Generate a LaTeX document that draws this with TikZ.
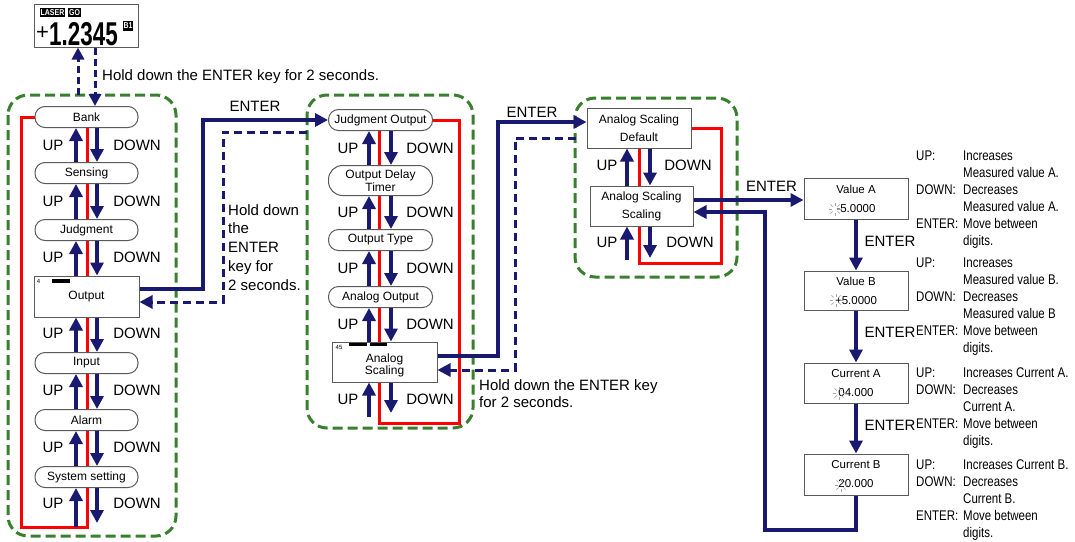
\documentclass[tikz,border=0pt]{standalone}
\usepackage{fontspec}
\setmainfont{Liberation Sans}
\newfontfamily\narrowf[FakeStretch=0.82]{Liberation Sans}
\newfontfamily\dispf[FakeStretch=0.68]{Liberation Sans}
\usetikzlibrary{arrows.meta,backgrounds,calc}
\definecolor{navyb}{RGB}{25,25,112}
\definecolor{grpc}{RGB}{56,128,46}
\definecolor{bord}{RGB}{90,90,90}
\tikzset{
 grpbox/.style={draw=grpc, line width=3pt, dash pattern=on 10pt off 5pt, rounded corners=20pt},
 pill/.style={draw=bord, line width=1pt, fill=white, rounded corners=10pt, minimum width=103pt, minimum height=21pt, inner sep=0pt, font=\fontsize{12}{13}\selectfont, align=center},
 rbox/.style={draw=bord, line width=1pt, fill=white, minimum width=104pt, minimum height=40pt, inner sep=0pt, font=\fontsize{12}{13}\selectfont, align=center},
 nav/.style={draw=navyb, line width=3.5pt, -{Triangle[width=13pt,length=13pt]}},
 dnav/.style={draw=navyb, line width=3pt, dash pattern=on 8pt off 5pt, -{Triangle[width=13pt,length=13pt]}},
 dnavs/.style={draw=navyb, line width=3pt, dash pattern=on 7pt off 4pt, -{Triangle[width=12pt,length=12pt]}},
 redl/.style={draw=red, line width=3pt},
 lbl/.style={font=\fontsize{15}{18}\selectfont, inner sep=0pt},
 note/.style={font=\narrowf\fontsize{14}{17}\selectfont, inner sep=0pt, anchor=north west},
 tag/.style={fill=black, text=white, font=\narrowf\bfseries\fontsize{8.5}{8.5}\selectfont, inner xsep=1pt, inner ysep=0pt, minimum height=9.5pt},
 spark/.style={draw=gray!70, line width=0.7pt},
}
\newcommand{\sparkat}[1]{\foreach \ang in {0,45,...,315}{\draw[spark] ($(#1)+(\ang:3.5)$) -- ($(#1)+(\ang:6.5)$);}}
\begin{document}
\begin{tikzpicture}[x=1pt,y=-1pt]
\useasboundingbox (0,0) rectangle (1075,541);

% ---------- top display ----------
\node[draw=bord, line width=1pt, minimum width=104pt, minimum height=43pt, inner sep=0pt] (disp) at (86,25.5) {};
\node[tag] (laser) at (52.5,12.5) {LASER};
\node[tag] (go) at (74.5,12.5) {GO};
\node[anchor=center, inner sep=0pt, font=\fontsize{22}{22}\selectfont] (plus) at (42.5,33) {+};
\node[anchor=base west, inner sep=0pt, font=\dispf\bfseries\fontsize{33}{33}\selectfont] (num) at (49,45) {1.2345};
\node[tag] (b1) at (128,26) {B1};
\node[lbl, anchor=base west] (h1) at (102,80.5) {Hold down the ENTER key for 2 seconds.};

% ---------- left column ----------
\node[pill] (bank) at (86.5,117) {Bank};
\node[pill] (sens) at (86.5,173) {Sensing};
\node[pill] (judg) at (86.5,230) {Judgment};
\node[rbox, minimum width=105pt, minimum height=41pt] (outp) at (86.5,296.5) {Output};
\node[pill] (inp) at (86.5,363) {Input};
\node[pill] (alarm) at (86.5,420) {Alarm};
\node[pill] (sys) at (86.5,477) {System setting};
\node[font=\fontsize{6}{6}\selectfont, inner sep=0pt] (o4) at (38.5,281) {4};
\fill (52,279) rectangle (70,282.5);

\foreach \a/\b in {bank/sens,sens/judg,judg/outp,outp/inp,inp/alarm,alarm/sys}{
  \draw[nav] (76,0 |- \b.north) -- (76,0 |- \a.south);
  \draw[nav] (97,0 |- \a.south) -- (97,0 |- \b.north);
}
\coordinate (lbU) at (76,527);
\coordinate (lbD) at (97,523);
\draw[nav] (lbU) -- (76,0 |- sys.south);
\draw[nav] (97,0 |- sys.south) -- (lbD);
\foreach \y [count=\i] in {145,201,257,333,390,447,503}{
  \node[lbl] (lu\i) at (53,\y) {UP};
  \node[lbl] (ld\i) at (137,\y) {DOWN};
}

% top dashed arrows
\coordinate (gtop) at (78,95);
\draw[dnavs] (gtop) -- (78,0 |- disp.south);
\draw[dnavs] (95,0 |- disp.south) -- (95,0 |- bank.north);

% ---------- middle column ----------
\node[pill, minimum width=104pt] (jo) at (380.5,120) {Judgment Output};
\node[pill, minimum width=104pt, minimum height=30pt, rounded corners=14pt] (odt) at (380.5,180.5) {Output Delay\\Timer};
\node[pill, minimum width=104pt] (ot) at (380.5,240) {Output Type};
\node[pill, minimum width=104pt] (ao) at (380.5,297) {Analog Output};
\node[rbox, minimum width=105pt, minimum height=40pt] (as) at (384.5,362) {};
\node[font=\fontsize{12}{12.5}\selectfont, align=center, inner sep=0pt] (astxt) at (384.5,365.5) {Analog\\Scaling};
\node[font=\fontsize{6}{6}\selectfont, inner sep=0pt] (a45) at (339,347) {45};
\fill (349,342.5) rectangle (367,345.5);
\fill (370,342.5) rectangle (387,345.5);

\foreach \a/\b in {jo/odt,odt/ot,ot/ao,ao/as}{
  \draw[nav] (369,0 |- \b.north) -- (369,0 |- \a.south);
  \draw[nav] (391,0 |- \a.south) -- (391,0 |- \b.north);
}
\coordinate (mbU) at (369,417);
\coordinate (mbD) at (391,413);
\draw[nav] (mbU) -- (369,0 |- as.south);
\draw[nav] (391,0 |- as.south) -- (mbD);
\foreach \y [count=\i] in {148,212,268,324,399}{
  \node[lbl] (mu\i) at (348,\y) {UP};
  \node[lbl] (md\i) at (430,\y) {DOWN};
}

% Output <-> Judgment Output
\draw[nav] ([yshift=7.5pt]outp.east) -- (203,289) -- (203,120) -- (jo.west);
\node[lbl] (e1) at (255,106) {ENTER};
\coordinate (d1) at (307,132);
\draw[dnav] (d1) -- (223,132) -- (223,302) -- ([yshift=-5.5pt]outp.east);
\node[lbl, anchor=north west, align=left, font=\fontsize{15}{18.8}\selectfont] (h2) at (228,204) {Hold down\\the\\ENTER\\key for\\2 seconds.};

% ---------- right group ----------
\node[rbox, font=\fontsize{12}{18}\selectfont] (asd) at (639,128) {Analog Scaling\\Default};
\node[rbox, minimum width=103pt, font=\fontsize{12}{18}\selectfont] (ass) at (641.5,206) {Analog Scaling\\Scaling};
\draw[nav] (627,0 |- ass.north) -- (627,0 |- asd.south);
\draw[nav] (650,0 |- asd.south) -- (650,0 |- ass.north);
\coordinate (rbU) at (627,260);
\coordinate (rbD) at (650,258);
\draw[nav] (rbU) -- (627,0 |- ass.south);
\draw[nav] (650,0 |- ass.south) -- (rbD);
\node[lbl] (ru1) at (607,165) {UP};
\node[lbl] (rd1) at (688,165) {DOWN};
\node[lbl] (ru2) at (607,242) {UP};
\node[lbl] (rd2) at (690,242) {DOWN};

% Analog Scaling <-> Default
\draw[nav] ([yshift=6pt]as.east) -- (498,356) -- (498,122) -- ([yshift=6pt]asd.west);
\node[lbl] (e2) at (532,112) {ENTER};
\coordinate (d2) at (576,138);
\draw[dnav] (d2) -- (515,138) -- (515,370) -- ([yshift=-8pt]as.east);
\node[lbl, anchor=north west, align=left, font=\fontsize{15}{17}\selectfont] (h3) at (479,379) {Hold down the ENTER key\\for 2 seconds.};

% ---------- value boxes ----------
\node[rbox, minimum height=41pt, font=\fontsize{11.5}{19}\selectfont] (va) at (856,198.5) {Value A\\-5.0000};
\node[rbox, minimum height=39pt, font=\fontsize{11.5}{19}\selectfont] (vb) at (856,290.5) {Value B\\+5.0000};
\node[rbox, minimum height=40pt, font=\fontsize{11.5}{19}\selectfont] (ca) at (856,383) {Current A\\04.000};
\node[rbox, minimum height=41pt, font=\fontsize{11.5}{19}\selectfont] (cb) at (856,474.5) {Current B\\20.000};
\coordinate (sa) at (835,209);
\coordinate (sb) at (836,300);
\coordinate (sc) at (839,393);
\coordinate (sd) at (841,485);
\sparkat{sa}\sparkat{sb}\sparkat{sc}\sparkat{sd}

\draw[nav] ([yshift=6pt]ass.east) -- ([yshift=6pt]ass.east -| va.west);
\node[lbl] (e3) at (771.5,186) {ENTER};
\draw[nav] (va.south) -- (vb.north);
\draw[nav] (vb.south) -- (ca.north);
\draw[nav] (ca.south) -- (cb.north);
\node[lbl] (e4) at (890,241) {ENTER};
\node[lbl] (e5) at (890,332) {ENTER};
\node[lbl] (e6) at (890,425) {ENTER};
\draw[nav] (cb.south) -- (856,530) -- (765,530) -- (765,212) -- ([yshift=-6pt]ass.east);

% ---------- notes ----------
\node[note] (n1) at (916,148) {\begin{tabular}{@{}p{47pt}@{}l@{}}UP: & Increases\\ & Measured value A.\\ DOWN: & Decreases\\ & Measured value A.\\ ENTER: & Move between\\ & digits.\end{tabular}};
\node[note] (n2) at (916,255) {\begin{tabular}{@{}p{47pt}@{}l@{}}UP: & Increases\\ & Measured value B.\\ DOWN: & Decreases\\ & Measured value B\\ ENTER: & Move between\\ & digits.\end{tabular}};
\node[note] (n3) at (916,365) {\begin{tabular}{@{}p{47pt}@{}l@{}}UP: & Increases Current A.\\ DOWN: & Decreases\\ & Current A.\\ ENTER: & Move between\\ & digits.\end{tabular}};
\node[note] (n4) at (916,457) {\begin{tabular}{@{}p{47pt}@{}l@{}}UP: & Increases Current B.\\ DOWN: & Decreases\\ & Current B.\\ ENTER: & Move between\\ & digits.\end{tabular}};

% ---------- background: groups and red lines ----------
\begin{pgfonlayer}{background}
\fill[white] (0,0) rectangle (1075,541);
\draw[grpbox] (8,95) rectangle (176,536);
\draw[grpbox] (307,95) rectangle (473,428);
\draw[grpbox] (575,98) rectangle (737,277);
\draw[redl] (bank.west) -- (21,117) -- (21,527) -- (87,527) -- (87,127.5);
\draw[redl] (jo.east) -- (459,120) -- (459,423) -- (379,423) -- (379,130);
\draw[redl] (asd.east) -- (721,128) -- (721,263) -- (639,263) -- (639,148);
\end{pgfonlayer}
\end{tikzpicture}
\end{document}
